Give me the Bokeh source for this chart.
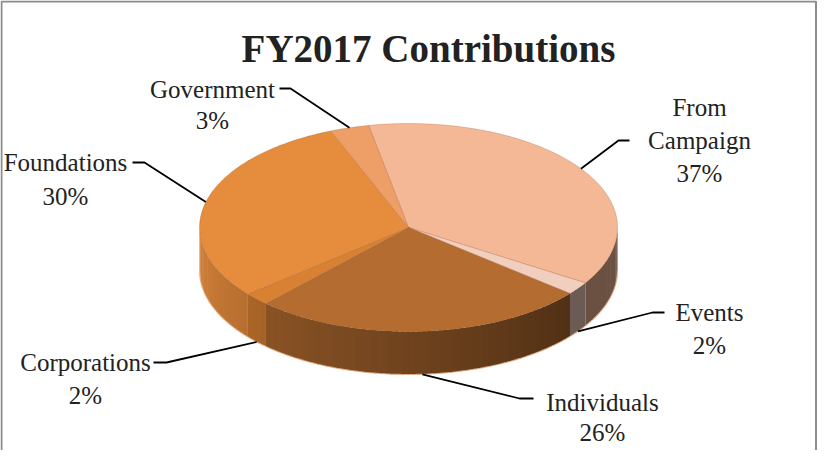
import math
from bokeh.plotting import figure
from bokeh.models import Range1d, ColumnDataSource
from bokeh.core.properties import value
from bokeh.embed import file_html
from bokeh.resources import INLINE

# ---------------- data ----------------
categories = ["From Campaign", "Events", "Individuals", "Corporations", "Foundations", "Government"]
values = [37, 2, 26, 2, 30, 3]
label_lines = [["From", "Campaign"], ["Events"], ["Individuals"], ["Corporations"], ["Foundations"], ["Government"]]
title_text = "FY2017 Contributions"

# ---------------- style / layout ----------------
top_colors = ["#F4B896", "#F2CEBE", "#B46C30", "#D88132", "#E68C3D", "#EE9F68"]
W, H = 817, 450
CX, CY, RX, RY, DEPTH = 416, 235, 209, 104, 43
START = -11  # degrees clockwise from 12 o'clock
label_anchor = [(707, 115), (717, 320), (610, 410), (93, 370), (73, 170), (220, 97)]
line_gap = [33, 33, 30, 33, 34, 31]
elbows = [((637, 148), (626, 148)), ((672, 320), (660, 320)), ((541, 406), (527, 406)),
          ((161, 370), (174, 370)), ((140, 170), (152, 170)), ((287, 96), (298, 96))]
FONT = "Liberation Serif"
TEXT_COLOR = "#222222"


def pt(theta, dy=0.0):
    t = math.radians(theta)
    return CX + RX * math.sin(t), CY - RY * math.cos(t) + dy


def arc(a0, a1, dy=0.0, step=1.0):
    n = max(2, int(math.ceil((a1 - a0) / step)) + 1)
    return [pt(a0 + (a1 - a0) * i / (n - 1), dy) for i in range(n)]


def hex_to_rgb(h):
    h = h.lstrip("#")
    return tuple(int(h[i:i + 2], 16) for i in (0, 2, 4))


def shade(hexc, f):
    r, g, b = hex_to_rgb(hexc)
    return "#%02x%02x%02x" % tuple(max(0, min(255, int(round(c * f)))) for c in (r, g, b))


def side_factor(theta):
    return max(0.44, min(0.93, 0.45 + (theta - 130) * 0.0034))


total = float(sum(values))
bounds = []
acc = START
for v in values:
    a0 = acc
    a1 = acc + 360.0 * v / total
    bounds.append((a0, a1))
    acc = a1

p = figure(width=W, height=H, x_range=Range1d(8, 8 + W), y_range=Range1d(8 + H, 8),
           output_backend="svg", toolbar_location=None, min_border=0,
           x_axis_type=None, y_axis_type=None)
p.xgrid.visible = False
p.ygrid.visible = False
p.outline_line_color = None
p.background_fill_color = "white"
p.border_fill_color = "white"

# chart border (left, top, right)
p.multi_line(xs=[[9, 9, 823.5, 823.5]], ys=[[8 + H, 9, 9, 8 + H]], line_color="#8c8c8c", line_width=2)

# ---------------- side strips ----------------
sxs, sys_, scol = [], [], []
for (a0, a1), col in zip(bounds, top_colors):
    lo, hi = max(a0, 90.0), min(a1, 270.0)
    if hi <= lo:
        continue
    n = max(1, int(math.ceil((hi - lo) / 1.5)))
    for i in range(n):
        t0 = lo + (hi - lo) * i / n
        t1 = lo + (hi - lo) * (i + 1) / n
        t1e = min(t1 + 0.6, 270.0) if i < n - 1 else t1
        top = arc(t0, t1e, 0, 0.5)
        bot = arc(t0, t1e, DEPTH, 0.5)[::-1]
        poly = top + bot
        sxs.append([q[0] for q in poly])
        sys_.append([q[1] for q in poly])
        scol.append(shade(col, side_factor((t0 + t1) / 2)))
p.patches(xs="xs", ys="ys", fill_color="c", line_color=None,
          source=ColumnDataSource(dict(xs=sxs, ys=sys_, c=scol)))

# rim highlight along the bottom
rim = arc(90, 270, DEPTH, 1.0)
p.line([q[0] for q in rim], [q[1] for q in rim], line_color="#EDB48E", line_width=1.2, line_alpha=0.8)

# ---------------- top faces ----------------
txs, tys = [], []
for (a0, a1) in bounds:
    poly = [(CX, CY)] + arc(a0, a1, 0, 1.0)
    txs.append([q[0] for q in poly])
    tys.append([q[1] for q in poly])
p.patches(xs="xs", ys="ys", fill_color="c", line_color="#9a5a2a", line_alpha=0.35, line_width=0.8,
          source=ColumnDataSource(dict(xs=txs, ys=tys, c=top_colors)))

# ---------------- leaders & labels ----------------
lx, ly = [], []
tx, ty, tt = [], [], []
for i, ((a0, a1), lines) in enumerate(zip(bounds, label_lines)):
    mid = (a0 + a1) / 2
    front = math.cos(math.radians(mid)) < 0
    ex, ey = pt(mid, DEPTH if front else 0)
    (e1x, e1y), (e2x, e2y) = elbows[i]
    lx.append([e1x, e2x, ex])
    ly.append([e1y, e2y, ey])
    ax, ay = label_anchor[i]
    for k, s in enumerate(lines):
        tx.append(ax)
        ty.append(ay + k * line_gap[i])
        tt.append(s)
    tx.append(ax)
    ty.append(ay + len(lines) * line_gap[i])
    tt.append("%d%%" % values[i])

p.multi_line(xs=lx, ys=ly, line_color="black", line_width=1.8)
p.text(x=tx, y=ty, text=tt, text_font=value(FONT), text_font_size=value("25px"),
       text_align="center", text_baseline="alphabetic", text_color=TEXT_COLOR)

p.text(x=[436], y=[56], text=[title_text], text_font=value(FONT), text_font_size=value("39px"),
       text_font_style="bold", text_align="center", text_baseline="alphabetic", text_color=TEXT_COLOR)

open("out.html", "w").write(file_html(p, INLINE))
